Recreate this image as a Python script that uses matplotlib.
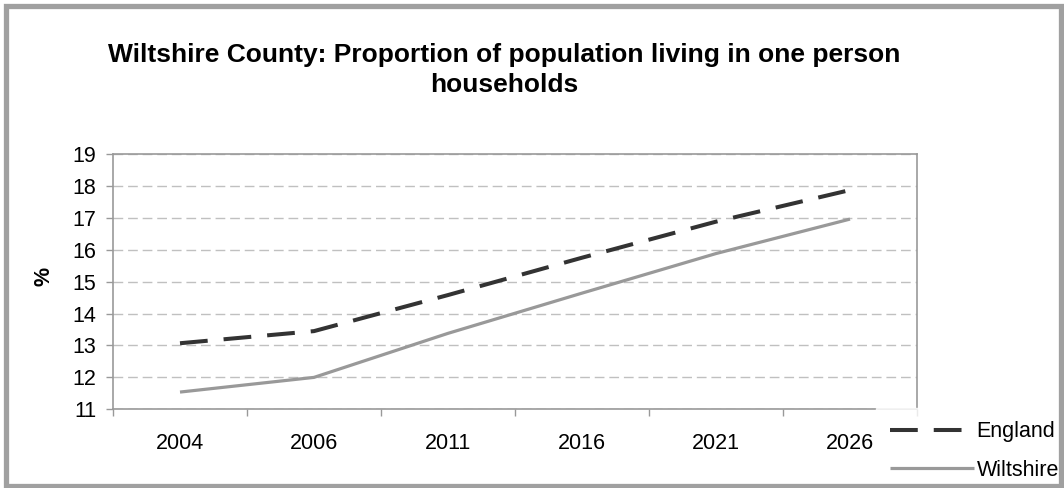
import matplotlib.pyplot as plt
from matplotlib.patches import Rectangle

plt.rcParams['font.family'] = ['Liberation Sans', 'DejaVu Sans']
plt.rcParams['lines.scale_dashes'] = False

# Data
years = ['2004', '2006', '2011', '2016', '2021', '2026']
england = [13.07, 13.45, 14.58, 15.75, 16.88, 17.87]
wiltshire = [11.54, 12.0, 13.38, 14.64, 15.88, 16.96]
y_ticks = [11, 12, 13, 14, 15, 16, 17, 18, 19]

W, H = 1064, 488
fig = plt.figure(figsize=(W / 100, H / 100), dpi=100)

# Plot area in pixel terms
left, right, top, bottom = 113, 917, 154, 409.3
ax = fig.add_axes([left / W, (H - bottom) / H, (right - left) / W, (bottom - top) / H])

x = list(range(len(years)))
ax.plot(x, england, color='#333333', lw=2.9, ls=(0, (20, 11.5)),
        solid_capstyle='butt', dash_capstyle='butt', label='England', zorder=3)
ax.plot(x, wiltshire, color='#999999', lw=2.3, solid_capstyle='butt',
        label='Wiltshire', zorder=3)

ax.set_xlim(-0.5, len(years) - 0.5)
ax.set_ylim(11, 19)
ax.set_yticks(y_ticks)
ax.set_xticks(x)
ax.set_xticklabels(years)
ax.set_xticks([i - 0.5 for i in range(len(years) + 1)], minor=True)

ax.tick_params(axis='x', which='major', length=0, pad=17, labelsize=15.5)
ax.tick_params(axis='x', which='minor', length=5, width=1, color='#999999')
ax.tick_params(axis='y', length=5, width=1, color='#999999', pad=7, labelsize=15.5)

ax.grid(axis='y', color='#c0c0c0', lw=1, ls=(0, (7, 3.5)))
ax.set_axisbelow(True)
for s in ax.spines.values():
    s.set_color('#999999')
    s.set_linewidth(1.2)

ax.set_ylabel('%', fontsize=15.5, fontweight='bold')
ax.yaxis.set_label_coords((55 - left) / (right - left), 0.52)

fig.text(504 / W, 1 - 92 / H,
         'Wiltshire County: Proportion of population living in one person\nhouseholds',
         ha='center', va='baseline', fontsize=19, fontweight='bold', linespacing=1.33)

# legend box sits over the bottom-right corner of the plot area, as in the original
leg = fig.legend(loc='upper left', bbox_to_anchor=(876 / W, 1 - 407.5 / H),
                 frameon=True, fontsize=15.5, handlelength=3.9, handletextpad=0.12,
                 labelspacing=0.8, borderpad=0.65, borderaxespad=0, fancybox=False)
leg.get_frame().set_facecolor('white')
leg.get_frame().set_edgecolor('white')

# Outer chart border
fig.patches.append(Rectangle((6 / W, 2 / H), 1055 / W, 480 / H, transform=fig.transFigure,
                             fill=False, edgecolor='#a0a0a0', lw=3.8, zorder=10))

fig.savefig('out.png', dpi=100)
